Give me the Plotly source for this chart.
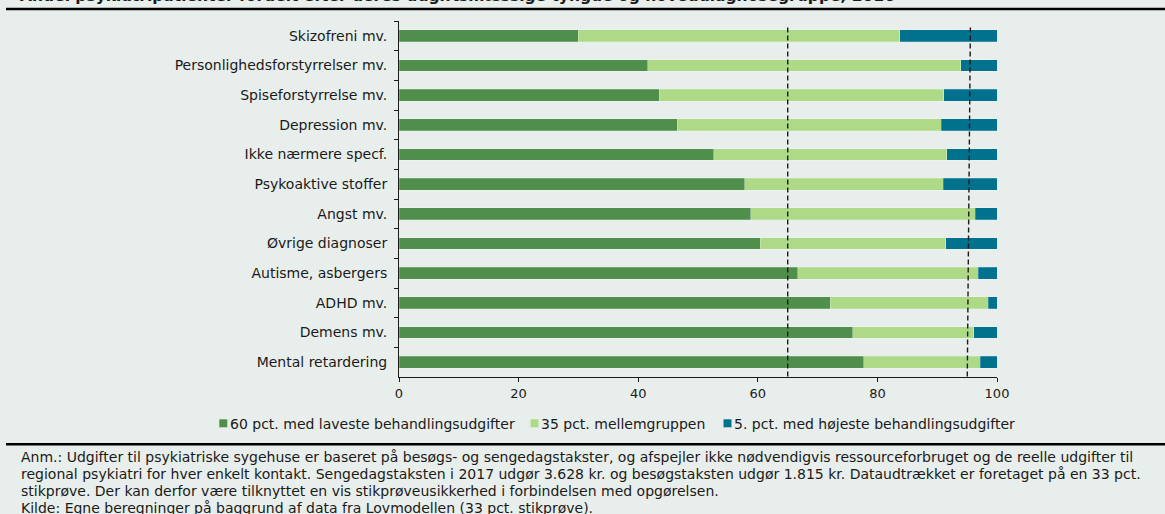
import plotly.graph_objects as go

# ---------------- data ----------------
categories = [
    "Skizofreni mv.",
    "Personlighedsforstyrrelser mv.",
    "Spiseforstyrrelse mv.",
    "Depression mv.",
    "Ikke nærmere specf.",
    "Psykoaktive stoffer",
    "Angst mv.",
    "Øvrige diagnoser",
    "Autisme, asbergers",
    "ADHD mv.",
    "Demens mv.",
    "Mental retardering",
]
low60 = [30.0, 41.6, 43.5, 46.5, 52.6, 57.8, 58.8, 60.4, 66.7, 72.1, 75.9, 77.7]
mid35 = [53.7, 52.3, 47.6, 44.2, 39.0, 33.2, 37.6, 31.0, 30.2, 26.4, 20.2, 19.5]
top5 = [16.3, 6.1, 8.9, 9.3, 8.4, 9.0, 3.6, 8.6, 3.1, 1.5, 3.9, 2.8]

series_names = [
    "60 pct. med laveste behandlingsudgifter",
    "35 pct. mellemgruppen",
    "5. pct. med højeste behandlingsudgifter",
]
x_ticks = [0, 20, 40, 60, 80, 100]

# reference (dashed) lines: (value at top, value at bottom)
ref_line_1 = (65.0, 65.0)
ref_line_2 = (95.55, 95.03)

title_text = "Andel psykiatripatienter fordelt efter deres udgiftsmæssige tyngde og hoveddiagnosegruppe, 2016"
note_lines = [
    "Anm.: Udgifter til psykiatriske sygehuse er baseret på besøgs- og sengedagstakster, og afspejler ikke nødvendigvis ressourceforbruget og de reelle udgifter til",
    "regional psykiatri for hver enkelt kontakt. Sengedagstaksten i 2017 udgør 3.628 kr. og besøgstaksten udgør 1.815 kr. Dataudtrækket er foretaget på en 33 pct.",
    "stikprøve. Der kan derfor være tilknyttet en vis stikprøveusikkerhed i forbindelsen med opgørelsen.",
    "Kilde: Egne beregninger på baggrund af data fra Lovmodellen (33 pct. stikprøve).",
]

# ---------------- style ----------------
colors = ["#4F8F4B", "#AEDA87", "#00728E"]
bg = "#E8EEEB"
FONT = "DejaVu Sans"
FS = 14
FS_X = 13

W_PX, H_PX = 1165, 514
L, R, T, B = 399, 997, 21, 377


def px(x):
    return (x - L) / (R - L)


def py(y):
    return (B - y) / (B - T)


fig = go.Figure()
for name, vals, col in zip(series_names, [low60, mid35, top5], colors):
    fig.add_trace(go.Bar(
        y=categories, x=vals, name=name, orientation="h",
        marker=dict(color=col, line=dict(color="rgba(255,255,255,0.35)", width=0.6)),
        showlegend=False,
    ))

shapes = []
# dashed reference lines
for (v_top, v_bot) in [ref_line_1, ref_line_2]:
    shapes.append(dict(type="line", xref="x", yref="paper", x0=v_top, x1=v_bot,
                       y0=py(27.5), y1=0, line=dict(color="#1a1a1a", width=1.4, dash="5px,3px"),
                       layer="above"))
# frame rules
shapes.append(dict(type="line", xref="paper", yref="paper", x0=px(6), x1=px(1166),
                   y0=py(9), y1=py(9), line=dict(color="black", width=2.6)))
shapes.append(dict(type="line", xref="paper", yref="paper", x0=px(6), x1=px(1166),
                   y0=py(444.3), y1=py(444.3), line=dict(color="black", width=2.4)))

annotations = []
# custom legend
legend_sq_x = [219.3, 530.5, 723.5]
legend_txt_x = [229.0, 540.0, 733.0]
for name, col, sx, tx in zip(series_names, colors, legend_sq_x, legend_txt_x):
    shapes.append(dict(type="rect", xref="paper", yref="paper", x0=px(sx), x1=px(sx + 8),
                       y0=py(427.3), y1=py(419.3), fillcolor=col, line=dict(width=0)))
    annotations.append(dict(text=name, xref="paper", yref="paper", x=px(tx), y=py(423.5),
                            xanchor="left", yanchor="middle", showarrow=False,
                            font=dict(family=FONT, size=FS, color="#1a1a1a"), borderpad=0))

# title (partly cut off at top)
annotations.append(dict(text="<b>" + title_text + "</b>", xref="paper", yref="paper",
                        x=px(19), y=py(-3.5), xanchor="left", yanchor="middle", showarrow=False,
                        font=dict(family=FONT, size=15.5, color="#1a1a1a"), borderpad=0))

# notes
note_y = [457.0, 473.8, 490.6, 507.6]
for line, yy in zip(note_lines, note_y):
    annotations.append(dict(text=line, xref="paper", yref="paper", x=px(20), y=py(yy),
                            xanchor="left", yanchor="middle", showarrow=False,
                            font=dict(family=FONT, size=FS, color="#1a1a1a"), borderpad=0))

fig.update_layout(
    barmode="stack",
    bargap=0.6,
    width=W_PX, height=H_PX,
    margin=dict(l=L, r=W_PX - R, t=T, b=H_PX - B, pad=0),
    paper_bgcolor=bg, plot_bgcolor=bg,
    font=dict(family=FONT, size=FS, color="#1a1a1a"),
    shapes=shapes, annotations=annotations,
    showlegend=False,
)
fig.update_xaxes(range=[0, 100], tickvals=x_ticks, ticktext=[str(v) for v in x_ticks],
                 showgrid=False, zeroline=False, showline=True, linecolor="#1a1a1a", linewidth=1,
                 ticks="outside", ticklen=4, tickcolor="#1a1a1a", ticklabelstandoff=0,
                 tickfont=dict(family=FONT, size=FS_X, color="#1a1a1a"), fixedrange=True)
fig.update_yaxes(type="category", categoryorder="array", categoryarray=categories,
                 autorange="reversed", showgrid=False, zeroline=False,
                 showline=True, linecolor="#1a1a1a", linewidth=1,
                 ticks="outside", tickson="boundaries", ticklen=4, tickcolor="#1a1a1a",
                 ticklabelstandoff=8,
                 tickfont=dict(family=FONT, size=FS, color="#1a1a1a"), fixedrange=True)

post = ("document.body.style.margin='0';document.body.style.padding='0';"
        "document.body.style.background='" + bg + "';"
        "document.documentElement.style.background='" + bg + "';"
        "document.body.style.overflow='hidden';")
fig.write_html("out.html", post_script=post, config={"displayModeBar": False})
